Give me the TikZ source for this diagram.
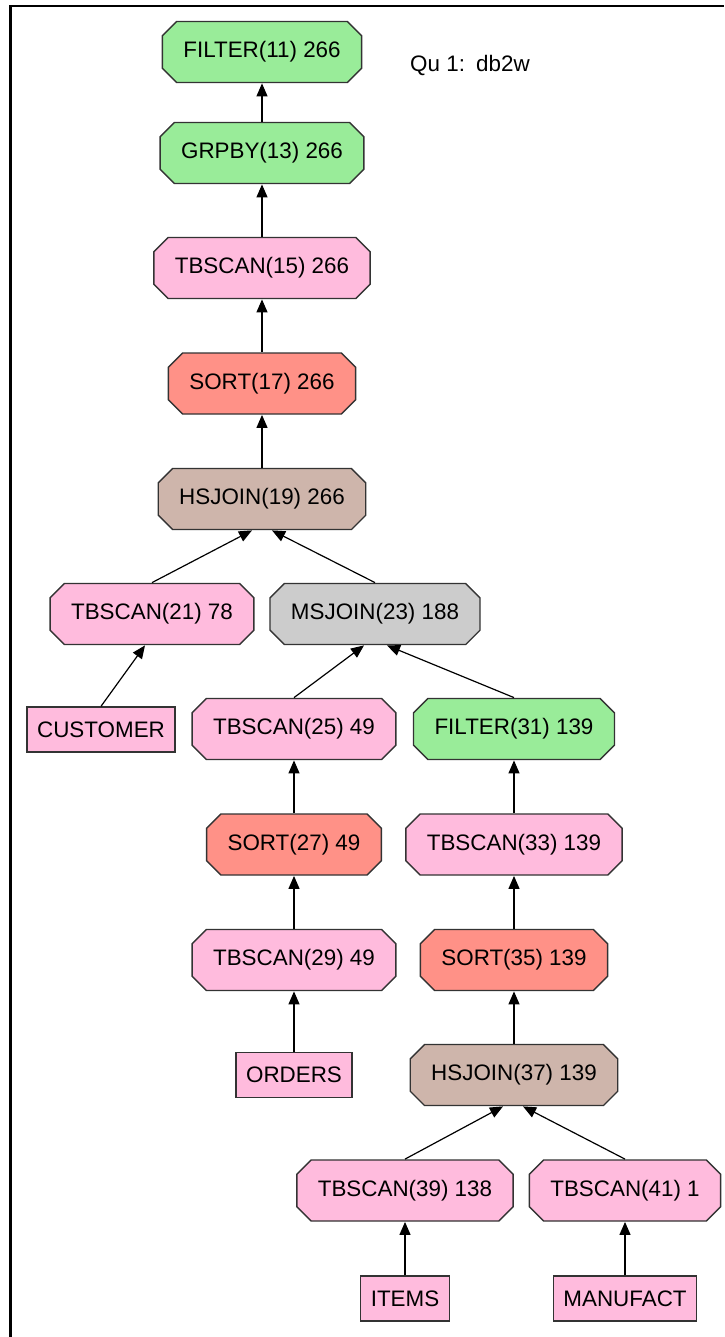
\documentclass[tikz,border=0pt]{standalone}
\usepackage{fontspec}
\setmainfont{Liberation Sans}
\usetikzlibrary{calc,arrows.meta}

\definecolor{opgreen}{RGB}{153,236,153}
\definecolor{oppink}{RGB}{255,187,221}
\definecolor{opsalmon}{RGB}{255,145,135}
\definecolor{opbrown}{RGB}{206,181,171}
\definecolor{opgray}{RGB}{204,204,204}

\tikzset{
  lbl/.style={font=\fontsize{22.4}{26}\selectfont},
  % octagon drawn inside the node box
  op/.style={lbl, rectangle, inner xsep=21.7pt, inner ysep=0pt, minimum height=62.4pt,
    path picture={
      \filldraw[fill=#1, draw=black!80, line width=1.4pt]
        let \p1=(path picture bounding box.north west),
            \p2=(path picture bounding box.south east) in
        ({\x1+15pt},{\y1-0.7pt}) -- ({\x2-15pt},{\y1-0.7pt})
        -- ({\x2-0.7pt},{\y1-15pt}) -- ({\x2-0.7pt},{\y2+15pt})
        -- ({\x2-15pt},{\y2+0.7pt}) -- ({\x1+15pt},{\y2+0.7pt})
        -- ({\x1+0.7pt},{\y2+15pt}) -- ({\x1+0.7pt},{\y1-15pt}) -- cycle;
    }},
  tbl/.style={lbl, rectangle, draw=black!80, line width=1.4pt, fill=oppink,
    inner xsep=10pt, inner ysep=0pt, minimum height=45pt},
  arr/.style={-{Triangle[length=13pt,width=11pt]}, line width=1.2pt},
}

\begin{document}
\begin{tikzpicture}[x=1pt,y=-1pt]
    \useasboundingbox (0,0) rectangle (724,1337);
    % Frame
    \draw[line width=2.5pt] (10.5,1337) -- (10.5,6) -- (724,6);

    % Title
    \node[lbl] (title) at (470,66) {Qu 1:\enspace db2w};

    % Main chain
    \node[op=opgreen] (f11) at (262,52) {FILTER(11) 266};
    \node[op=opgreen] (g13) at (262,153) {GRPBY(13) 266};
    \node[op=oppink] (t15) at (262,268) {TBSCAN(15) 266};
    \node[op=opsalmon] (s17) at (262,383.5) {SORT(17) 266};
    \node[op=opbrown] (h19) at (262,499) {HSJOIN(19) 266};

    % Level 2
    \node[op=oppink] (t21) at (152,614) {TBSCAN(21) 78};
    \node[op=opgray] (m23) at (375,614) {MSJOIN(23) 188};
    \node[tbl] (cust) at (101,729.5) {CUSTOMER};

    % Left branch
    \node[op=oppink] (t25) at (294,729) {TBSCAN(25) 49};
    \node[op=opsalmon] (s27) at (294,844.5) {SORT(27) 49};
    \node[op=oppink] (t29) at (294,960) {TBSCAN(29) 49};
    \node[tbl] (ord) at (294,1075) {ORDERS};

    % Right branch
    \node[op=opgreen] (f31) at (514,729) {FILTER(31) 139};
    \node[op=oppink] (t33) at (514,844.5) {TBSCAN(33) 139};
    \node[op=opsalmon] (s35) at (514,960) {SORT(35) 139};
    \node[op=opbrown] (h37) at (514,1075) {HSJOIN(37) 139};
    \node[op=oppink] (t39) at (405,1190.5) {TBSCAN(39) 138};
    \node[op=oppink] (t41) at (625,1190.5) {TBSCAN(41) 1};
    \node[tbl] (items) at (405,1298.5) {ITEMS};
    \node[tbl] (manu) at (625,1298.5) {MANUFACT};

    % Edges
    \draw[arr] (g13) -- (f11);
    \draw[arr] (t15) -- (g13);
    \draw[arr] (s17) -- (t15);
    \draw[arr] (h19) -- (s17);
    \draw[arr] (t21.north) -- ([xshift=-10pt]h19.south);
    \draw[arr] (m23.north) -- ([xshift=10pt]h19.south);
    \draw[arr] (cust.north) -- ([xshift=-7pt]t21.south);
    \draw[arr] (t25.north) -- ([xshift=-11pt]m23.south);
    \draw[arr] (f31.north) -- ([xshift=12pt]m23.south);
    \draw[arr] (s27) -- (t25);
    \draw[arr] (t29) -- (s27);
    \draw[arr] (ord) -- (t29);
    \draw[arr] (t33) -- (f31);
    \draw[arr] (s35) -- (t33);
    \draw[arr] (h37) -- (s35);
    \draw[arr] (t39.north) -- ([xshift=-11pt]h37.south);
    \draw[arr] (t41.north) -- ([xshift=9pt]h37.south);
    \draw[arr] (items) -- (t39);
    \draw[arr] (manu) -- (t41);
\end{tikzpicture}
\end{document}
